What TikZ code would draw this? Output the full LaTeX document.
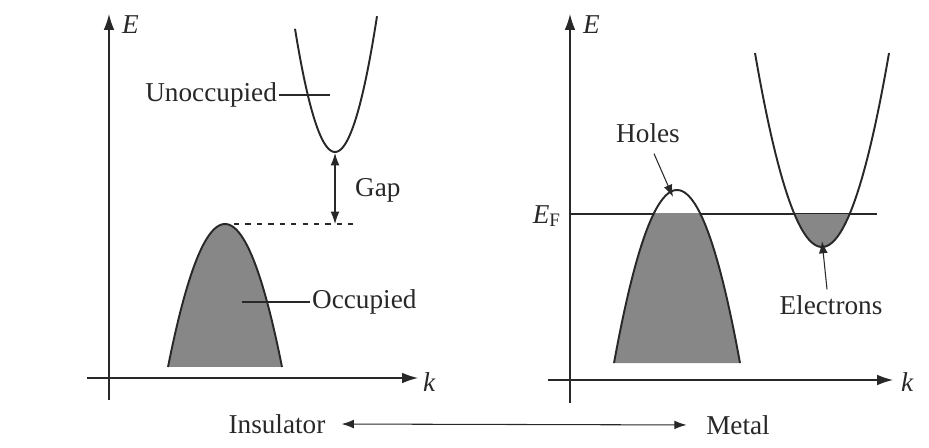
\documentclass[tikz,border=0pt]{standalone}
\usepackage{fontspec}
\setmainfont{Liberation Serif}
\usetikzlibrary{arrows.meta,positioning,calc}
\definecolor{inkgray}{RGB}{40,40,40}
\definecolor{bandfill}{RGB}{135,135,135}

\begin{document}
\begin{tikzpicture}[
      x=0.02cm, y=-0.02cm,
      axis/.style={line width=0.7pt, color=inkgray, -{Latex[length=9pt,width=6pt]}},
      band/.style={line width=1.1pt, color=inkgray},
      shade/.style={fill=bandfill},
      lbl/.style={font=\fontsize{15.5}{18}\selectfont, text=inkgray, inner sep=1pt},
      pointer/.style={line width=0.6pt, color=inkgray},
      arrow/.style={line width=0.6pt, color=inkgray, -{Latex[length=7pt,width=5pt]}},
      twoway/.style={line width=0.6pt, color=inkgray, {Latex[length=7pt,width=5pt]}-{Latex[length=7pt,width=5pt]}}
    ]
      \useasboundingbox (0,0) rectangle (929,448);
      %% Insulator panel: axes
      \coordinate (iEbot) at (109,400);
      \coordinate (iEtop) at (109,14);
      \coordinate (ikl) at (87,378);
      \coordinate (ikr) at (418,378);
      \draw[axis] (iEbot) -- (iEtop);
      \draw[axis] (ikl) -- (ikr);
      \node[lbl, anchor=west] (iE) at (120,25) {\textit{E}};
      \node[lbl, anchor=west] (ik) at (421,382) {\textit{k}};
      %% occupied and unoccupied bands
      \fill[shade] plot[domain=168:282, samples=60] (\x, {224+0.044*(\x-225)^2}) -- cycle;
      \draw[band] plot[domain=168:282, samples=60] (\x, {224+0.044*(\x-225)^2});
      \draw[band] plot[domain=295:377, samples=60] (\x, {152-0.077*(\x-335)^2});
      \coordinate (vtop) at (234,224);
      \coordinate (cmin) at (335,153);
      \coordinate (gapbot) at (335,224);
      \draw[pointer, dash pattern=on 3pt off 3.5pt] (vtop) -- (356,224);
      \draw[twoway] (cmin) -- (gapbot);
      \node[lbl, anchor=west] (gap) at (353,190) {Gap};
      \node[lbl, anchor=east] (unocc) at (279,95) {Unoccupied};
      \coordinate (unoccend) at (330,95);
      \draw[pointer] (unocc.east) -- (unoccend);
      \node[lbl, anchor=west] (occ) at (310,302) {Occupied};
      \coordinate (occend) at (242,302);
      \draw[pointer] (occ.west) -- (occend);

      %% Metal panel: axes
      \coordinate (mEbot) at (570,403);
      \coordinate (mEtop) at (570,14);
      \coordinate (mkl) at (548,380);
      \coordinate (mkr) at (893,380);
      \draw[axis] (mEbot) -- (mEtop);
      \draw[axis] (mkl) -- (mkr);
      \node[lbl, anchor=west] (mE) at (581,25) {\textit{E}};
      \node[lbl, anchor=west] (mk) at (899,382) {\textit{k}};
      %% Fermi level
      \coordinate (efl) at (570,214);
      \coordinate (efr) at (877,214);
      \draw[line width=0.7pt, color=inkgray] (efl) -- (efr);
      \node[lbl, anchor=east] (ef) at (563,216) {\textit{E}\textsubscript{F}};
      %% partly filled bands
      \begin{scope}
        \clip (0,214) rectangle (929,448);
        \fill[shade] plot[domain=614:740, samples=60] (\x, {190+0.0436*(\x-677)^2}) -- cycle;
      \end{scope}
      \draw[band] plot[domain=614:740, samples=60] (\x, {190+0.0436*(\x-677)^2});
      \fill[shade] plot[domain=794.4:849.6, samples=40] (\x, {247-0.0432*(\x-822)^2}) -- cycle;
      \draw[band] plot[domain=755:889, samples=60] (\x, {247-0.0432*(\x-822)^2});
      \node[lbl] (holes) at (648,133) {Holes};
      \coordinate (holetip) at (673,197);
      \draw[arrow] (holes.south) ++(6,9) coordinate (holestart) -- (holetip);
      \node[lbl] (elec) at (831,305) {Electrons};
      \coordinate (electip) at (822,241);
      \draw[arrow] (elec.north) ++(-4,-4) -- (electip);

      %% transition arrow
      \node[lbl] (ins) at (277,424) {Insulator};
      \node[lbl] (met) at (738,425) {Metal};
      \draw[twoway, shorten <=8pt, shorten >=10pt] (ins.east) -- (met.west);
    \end{tikzpicture}
\end{document}
